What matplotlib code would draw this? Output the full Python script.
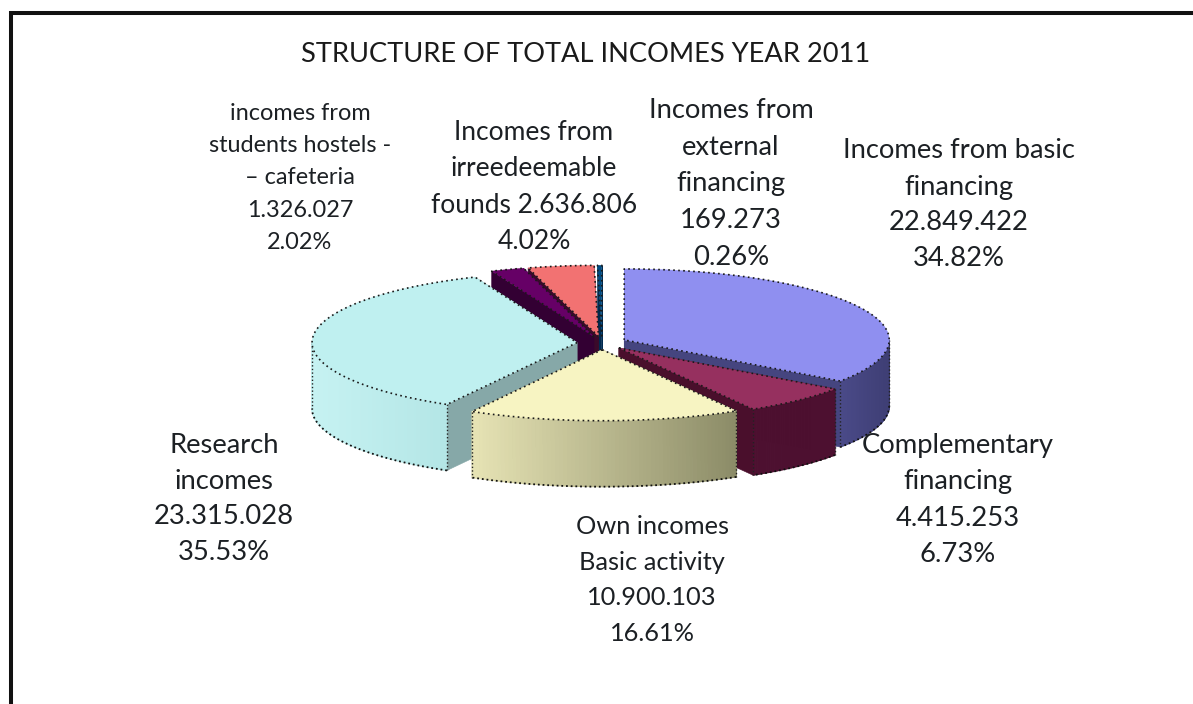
import numpy as np
import matplotlib
matplotlib.use("Agg")
import matplotlib.pyplot as plt
from matplotlib.collections import PolyCollection
from matplotlib.colors import to_rgb

# Income categories in pie order, clockwise from twelve o'clock
names = ["Incomes from basic\nfinancing",
         "Complementary\nfinancing",
         "Own incomes\nBasic activity",
         "Research\nincomes",
         "incomes from\nstudents hostels -\n– cafeteria",
         "Incomes from\nirreedeemable\nfounds",
         "Incomes from\nexternal\nfinancing"]
values = [22849422, 4415253, 10900103, 23315028, 1326027, 2636806, 169273]
shares = ["34.82%", "6.73%", "16.61%", "35.53%", "2.02%", "4.02%", "0.26%"]

top_colors = ["#8f8ff0", "#96305f", "#f7f4c2", "#bff0f0", "#660066", "#f27272", "#004a80"]
cut_colors = ["#45457f", "#4a0f2c", "#8f8f6c", "#86a8a8", "#330033", "#3a0a2a", "#002a50"]
wall_left = ["#4a4a88", "#4d1030", "#e6e3b4", "#c6f2f2", "#330033", "#7a3a3a", "#002a50"]
wall_right = ["#3e3e74", "#4d1030", "#8c8c68", "#b4e6e6", "#330033", "#7a3a3a", "#002a50"]

# Label centres on the pixel canvas
label_pos = [(959, 205), (958, 500), (652, 580), (224, 499), (300, 178), (534, 187), (731, 184)]
label_size = [19.7, 19.7, 18.3, 19.7, 16.9, 19.0, 19.7]
label_pitch = [1.55, 1.55, 1.68, 1.53, 1.65, 1.58, 1.58]
label_amount_joined = [False, False, False, False, False, True, False]

W, H = 1193, 704
CX, CY = 602, 343      # pie centre
RX, RY = 265, 71       # ellipse radii of the top face
DEPTH = 66             # extruded height
EXPLODE = 25           # radial offset of each slice

plt.rcParams["font.family"] = ["Lato", "Open Sans", "DejaVu Sans"]
fig = plt.figure(figsize=(W / 100, H / 100), dpi=100, facecolor="white")
ax = fig.add_axes([0, 0, 1, 1])
ax.set_xlim(0, W)
ax.set_ylim(H, 0)
ax.axis("off")


def arc(cx, cy, a0, a1, n=80):
    t = np.radians(np.linspace(a0, a1, n))
    return np.column_stack([cx + RX * np.sin(t), cy - RY * np.cos(t)])


total = sum(values)
sweeps = [v / total * 360 for v in values]
starts = np.cumsum([0] + sweeps[:-1])

# Painter's order: back slices first, the front slice last
order = [6, 5, 4, 0, 3, 1, 2]
for z, i in enumerate(order):
    a0, a1 = starts[i], starts[i] + sweeps[i]
    mid = np.radians((a0 + a1) / 2)
    cx = CX + EXPLODE * np.sin(mid)
    cy = CY - EXPLODE * RY / RX * np.cos(mid)
    base = z * 5 + 2

    # Flat walls exposed along the two radial cuts
    for a in (a0, a1):
        p = arc(cx, cy, a, a, 1)[0]
        ax.fill([cx, p[0], p[0], cx], [cy, p[1], p[1] + DEPTH, cy + DEPTH],
                color=cut_colors[i], lw=0.4, zorder=base)

    # Curved outer wall, shaded strip by strip from left to right
    lo, hi = max(a0, 90), min(a1, 270)
    if hi > lo:
        pts = arc(cx, cy, lo, hi, 70)
        quads = [[pts[k], pts[k + 1], pts[k + 1] + [0, DEPTH], pts[k] + [0, DEPTH]]
                 for k in range(len(pts) - 1)]
        x_mid = np.array([q[0][0] for q in quads])
        f = (x_mid - x_mid.min()) / max(np.ptp(x_mid), 1)
        c0, c1 = np.array(to_rgb(wall_left[i])), np.array(to_rgb(wall_right[i]))
        cols = [tuple(c0 + (c1 - c0) * s) for s in f]
        ax.add_collection(PolyCollection(quads, facecolors=cols, edgecolors=cols,
                                         linewidths=0.8, zorder=base + 1))
        ax.plot(pts[:, 0], pts[:, 1] + DEPTH, color="#111111", lw=1.3,
                ls=(0, (1.0, 1.6)), zorder=base + 2)
        for x_end in (pts[0], pts[-1]):
            ax.plot([x_end[0]] * 2, [x_end[1], x_end[1] + DEPTH], color="#222222",
                    lw=1.0, ls=(0, (1.0, 1.6)), zorder=base + 2)

    # Top face with a broken dark rim
    rim = arc(cx, cy, a0, a1)
    poly = np.vstack([[cx, cy], rim])
    ax.fill(poly[:, 0], poly[:, 1], color=top_colors[i], lw=0.3, zorder=base + 3)
    outline = np.vstack([[cx, cy], rim, [cx, cy]])
    ax.plot(outline[:, 0], outline[:, 1], color="#1a1a1a", lw=1.2,
            ls=(0, (1.0, 2.0)), zorder=base + 4)

ax.text(586, 55, "STRUCTURE OF TOTAL INCOMES YEAR 2011", ha="center", va="center",
        fontsize=19.6, color="#1a1a1a", zorder=60)


def amount(v):
    return f"{v:,}".replace(",", ".")


# Each label: category, amount in dotted thousands, share of the total
for i in range(len(values)):
    sep = " " if label_amount_joined[i] else "\n"
    txt = f"{names[i]}{sep}{amount(values[i])}\n{shares[i]}"
    ax.text(label_pos[i][0], label_pos[i][1], txt, ha="center", va="center",
            fontsize=label_size[i], color="#1c2024", linespacing=label_pitch[i], zorder=60)

# Heavy frame along the top and left edges
ax.plot([W, 11, 11], [13, 13, H], color="#111111", lw=2.9, zorder=70,
        solid_joinstyle="miter")

fig.savefig("out.png", dpi=100, facecolor="white")
